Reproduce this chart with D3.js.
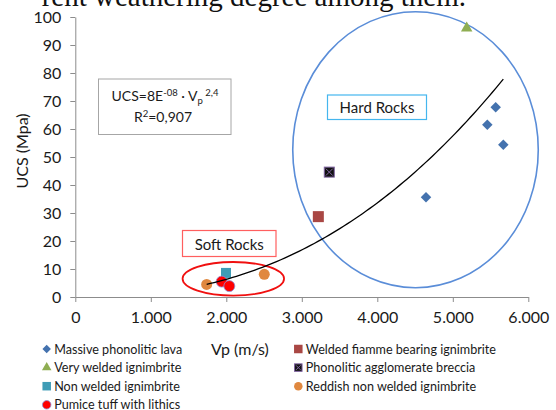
<!DOCTYPE html>
<html>
<head>
<meta charset="utf-8">
<script src="https://cdn.jsdelivr.net/npm/d3@7"></script>
<style>
  html, body { margin: 0; padding: 0; background: #fff; }
  svg { display: block; font-family: Lato, "Liberation Sans", sans-serif; }
</style>
</head>
<body>
<svg id="chart" width="556" height="410"></svg>
<script>
// ---- data: P-wave velocity (m/s) vs uniaxial compressive strength (MPa) ----
const seriesNames = [
  "Massive phonolitic lava",
  "Welded fiamme bearing ignimbrite",
  "Very welded ignimbrite",
  "Phonolitic agglomerate breccia",
  "Non welded ignimbrite",
  "Reddish non welded ignimbrite",
  "Pumice tuff with lithics"
];
const lavaVp = [5568, 5457, 5669, 4645];
const lavaUcs = [67.8, 61.5, 54.4, 35.6];
const fiammeVp = [3219];
const fiammeUcs = [28.7];
const veryWeldedVp = [5184];
const veryWeldedUcs = [96];
const brecciaVp = [3364];
const brecciaUcs = [44.6];
const nonWeldedVp = [1996];
const nonWeldedUcs = [8.6];
const reddishVp = [1740, 2503];
const reddishUcs = [4.5, 8.1];
const pumiceVp = [1939, 2040];
const pumiceUcs = [5.5, 3.9];

const xTicks = [0, 1000, 2000, 3000, 4000, 5000, 6000];
const yTicks = [0, 10, 20, 30, 40, 50, 60, 70, 80, 90, 100];

const fitCoef = "8E";
const fitCoefExp = "-08";
const fitPower = "2,4";
const fitR2 = "0,907";

// ---- series styling ----
const seriesVp = [lavaVp, fiammeVp, veryWeldedVp, brecciaVp, nonWeldedVp, reddishVp, pumiceVp];
const seriesUcs = [lavaUcs, fiammeUcs, veryWeldedUcs, brecciaUcs, nonWeldedUcs, reddishUcs, pumiceUcs];
const seriesMarker = ["diamond", "square", "triangle", "cross", "square", "circle", "circle"];
const seriesColor = ["#4472AE", "#A94744", "#8FAE52", "#111111", "#3E9CB6", "#E0883F", "#FF0000"];
const seriesSize = [10.5, 11, 11.5, 11, 10, 11, 11];
const series = seriesNames.map((name, i) => ({
  name, marker: seriesMarker[i], color: seriesColor[i], size: seriesSize[i],
  points: seriesVp[i].map((v, j) => ({ vp: v, ucs: seriesUcs[i][j] }))
}));

const svg = d3.select("#chart");
const x = d3.scaleLinear().domain([0, 6000]).range([75.3, 528.3]);
const y = d3.scaleLinear().domain([0, 100]).range([297, 17]);
const loc = d3.formatLocale({ decimal: ",", thousands: ".", grouping: [3], currency: ["", ""] });
const fmtX = loc.format(",");

// caption fragment above the chart
svg.append("text")
  .attr("x", 466).attr("y", 6)
  .attr("text-anchor", "end")
  .attr("font-family", "'Liberation Serif', 'Times New Roman', serif")
  .attr("font-size", 29)
  .attr("fill", "#111")
  .text("rent weathering degree among them.");

// ---- axes ----
const axisColor = "#8C8C8C";
const gy = svg.append("g").attr("transform", `translate(${x(0)},0)`)
  .call(d3.axisLeft(y).tickValues(yTicks).tickSize(5).tickSizeOuter(0).tickPadding(9));
const gx = svg.append("g").attr("transform", `translate(0,${y(0)})`)
  .call(d3.axisBottom(x).tickValues(xTicks).tickFormat(fmtX).tickSize(5).tickSizeOuter(0).tickPadding(10));
[gx, gy].forEach(g => {
  g.select(".domain").attr("stroke", axisColor).attr("stroke-width", 1);
  g.selectAll(".tick line").attr("stroke", axisColor);
  g.selectAll(".tick text").attr("fill", "#1a1a1a").attr("font-size", 16)
    .attr("font-family", "Lato, 'Liberation Sans', sans-serif");
});

svg.append("text")
  .attr("transform", "translate(21,151) rotate(-90)")
  .attr("text-anchor", "middle").attr("dominant-baseline", "central")
  .attr("font-size", 16).attr("fill", "#1a1a1a")
  .text("UCS (Mpa)");

svg.append("text")
  .attr("x", 240).attr("y", 355)
  .attr("text-anchor", "middle")
  .attr("font-size", 16).attr("fill", "#1a1a1a")
  .text("Vp (m/s)");

// ---- grouping ellipses and labels ----
const hardEllipse = { vp: 4506, ucs: 52.6, rvp: 1626, rucs: 49.3 };
const softEllipse = { vp: 2093, ucs: 6.5, rvp: 672, rucs: 6.0 };
function ellipse(e, color, w) {
  svg.append("ellipse")
    .attr("cx", x(e.vp)).attr("cy", y(e.ucs))
    .attr("rx", x(e.rvp) - x(0)).attr("ry", y(0) - y(e.rucs))
    .attr("fill", "none").attr("stroke", color).attr("stroke-width", w);
}
ellipse(hardEllipse, "#5A8DD8", 1.6);
ellipse(softEllipse, "#F01010", 1.8);

function labelBox(x0, y0, w, h, stroke, txt) {
  svg.append("rect").attr("x", x0).attr("y", y0).attr("width", w).attr("height", h)
    .attr("fill", "#fff").attr("stroke", stroke).attr("stroke-width", 1.2);
  svg.append("text").attr("x", x0 + w / 2).attr("y", y0 + h / 2)
    .attr("text-anchor", "middle").attr("dominant-baseline", "central")
    .attr("font-size", 15).attr("fill", "#1a1a1a").text(txt);
}
labelBox(327.5, 95, 99, 24.5, "#45B6EE", "Hard Rocks");
labelBox(182.5, 230.5, 93.5, 26, "#FF5F5F", "Soft Rocks");

// ---- markers ----
function drawMarker(g, type, s, color) {
  if (type === "diamond") {
    const h = s / 2;
    g.append("path").attr("d", `M0,${-h}L${h},0L0,${h}L${-h},0Z`).attr("fill", color);
  } else if (type === "square") {
    g.append("rect").attr("x", -s / 2).attr("y", -s / 2).attr("width", s).attr("height", s)
      .attr("fill", color);
  } else if (type === "triangle") {
    const h = s * Math.sqrt(3) / 2;
    g.append("path").attr("d", `M0,${-h * 2 / 3}L${s / 2},${h / 3}L${-s / 2},${h / 3}Z`).attr("fill", color);
  } else if (type === "cross") {
    const h = s / 2 - 0.5;
    g.append("rect").attr("x", -h).attr("y", -h).attr("width", 2 * h).attr("height", 2 * h)
      .attr("fill", color).attr("stroke", "#8064A2").attr("stroke-width", 1);
    const k = h - 1.5;
    g.append("path").attr("d", `M${-k},${-k}L${k},${k}M${k},${-k}L${-k},${k}`)
      .attr("stroke", "#8064A2").attr("stroke-width", 1);
  } else if (type === "circle") {
    const c = g.append("circle").attr("r", s / 2).attr("fill", color);
    if (color === "#FF0000") c.attr("stroke", "#8E90D8").attr("stroke-width", 0.8);
  }
}

const gp = svg.append("g");
series.forEach(sr => {
  sr.points.forEach(p => {
    const g = gp.append("g").attr("transform", `translate(${x(p.vp)},${y(p.ucs)})`);
    drawMarker(g, sr.marker, sr.size, sr.color);
  });
});

// ---- power-law trend line, least squares in log space ----
const all = series.flatMap(s => s.points);
const lx = all.map(d => Math.log(d.vp)), ly = all.map(d => Math.log(d.ucs));
const mx = d3.mean(lx), my = d3.mean(ly);
const b = d3.sum(lx, (v, i) => (v - mx) * (ly[i] - my)) / d3.sum(lx, v => (v - mx) ** 2);
const a = Math.exp(my - b * mx);
const [vMin, vMax] = d3.extent(all, d => d.vp);
const curve = d3.range(0, 81).map(i => vMin + (vMax - vMin) * i / 80);
svg.append("path")
  .attr("d", d3.line().x(v => x(v)).y(v => y(a * Math.pow(v, b)))(curve))
  .attr("fill", "none").attr("stroke", "#000").attr("stroke-width", 1.3);

// ---- equation box ----
svg.append("rect").attr("x", 98.5).attr("y", 79).attr("width", 132.5).attr("height", 55.5)
  .attr("fill", "#fff").attr("stroke", "#A6A6A6").attr("stroke-width", 1);
const eq = svg.append("text").attr("x", 165).attr("y", 101)
  .attr("text-anchor", "middle").attr("font-size", 14).attr("fill", "#1a1a1a");
eq.append("tspan").text("UCS=" + fitCoef);
eq.append("tspan").attr("font-size", 9.5).attr("dy", -5).text(fitCoefExp);
eq.append("tspan").attr("dy", 5).text(" \u00B7 V");
eq.append("tspan").attr("font-size", 9.5).attr("dy", 3).text("p");
eq.append("tspan").attr("font-size", 9.5).attr("dy", -8).text(" " + fitPower);
const r2 = svg.append("text").attr("x", 163).attr("y", 122)
  .attr("text-anchor", "middle").attr("font-size", 14).attr("fill", "#1a1a1a");
r2.append("tspan").text("R");
r2.append("tspan").attr("font-size", 9.5).attr("dy", -5).text("2");
r2.append("tspan").attr("dy", 5).text("=" + fitR2);

// ---- legend (two columns, filled row by row) ----
const legend = svg.append("g");
series.forEach((sr, i) => {
  const col = i % 2, row = Math.floor(i / 2);
  const lxp = col === 0 ? 46.7 : 298.3;
  const lyp = 349 + row * 18.6;
  const g = legend.append("g").attr("transform", `translate(${lxp},${lyp})`);
  drawMarker(g, sr.marker, sr.marker === "triangle" ? 9.5 : 8.5, sr.color);
  legend.append("text").attr("x", lxp + 7.5).attr("y", lyp)
    .attr("dominant-baseline", "central")
    .attr("font-size", 12.6).attr("fill", "#1a1a1a").text(sr.name);
});
</script>
</body>
</html>
